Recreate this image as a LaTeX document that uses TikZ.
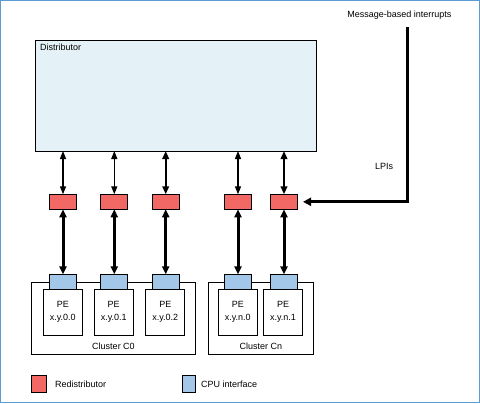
\documentclass[tikz,border=0pt]{standalone}
\usepackage{fontspec}
\setmainfont{Liberation Sans}
\usetikzlibrary{arrows.meta}
\definecolor{frameblue}{RGB}{91,155,213}
\definecolor{distfill}{RGB}{228,242,248}
\definecolor{redist}{RGB}{242,104,100}
\definecolor{cpuif}{RGB}{163,199,232}
\tikzset{
  txt/.style={font=\fontsize{9bp}{13bp}\selectfont, inner sep=0pt},
  box/.style={draw=black, line width=1bp, inner sep=0pt, outer sep=0pt},
  rdbox/.style={box, fill=redist, minimum width=27bp, minimum height=15bp},
  cpubox/.style={box, fill=cpuif, minimum width=27bp, minimum height=14.7bp},
  pebox/.style={box, fill=white, minimum width=39bp, minimum height=46.3bp, align=center, font=\fontsize{9bp}{13bp}\selectfont},
  clbox/.style={box, fill=white},
  tip/.style={Triangle[length=8bp,width=6bp]},
  thinarr/.style={line width=1.3bp, {Triangle[length=8bp,width=6bp]}-{Triangle[length=8bp,width=6bp]}},
  midarr/.style={line width=2.4bp, {Triangle[length=8bp,width=6.5bp]}-{Triangle[length=8bp,width=6.5bp]}},
  thickarr/.style={line width=3bp, {Triangle[length=8bp,width=7bp]}-{Triangle[length=8bp,width=7bp]}},
}
\begin{document}
\begin{tikzpicture}[x=1bp,y=-1bp]
\useasboundingbox (0,0) rectangle (480,403);
\draw[frameblue, line width=1bp] (0.5,0.5) rectangle (479.5,402.5);

% Distributor
\node[box, fill=distfill, minimum width=280bp, minimum height=111bp] (dist) at (176,95.5) {};
\node[txt, anchor=north west] (disttxt) at (40,44) {Distributor};

% Redistributors
\node[rdbox] (rd1) at (63,201.8) {};
\node[rdbox] (rd2) at (114.3,201.8) {};
\node[rdbox] (rd3) at (165.7,201.8) {};
\node[rdbox] (rd4) at (238,201.8) {};
\node[rdbox] (rd5) at (284,201.8) {};

% Clusters
\draw[box] (31.7,282.3) rectangle (195.3,354);
\draw[box] (208.3,282.3) rectangle (313.3,354);
\node[txt] (c0) at (113.5,346) {Cluster C0};
\node[txt] (cn) at (260.8,346) {Cluster Cn};

% PEs
\node[pebox] (pe1) at (62.8,312.2) {PE\\x.y.0.0};
\node[pebox] (pe2) at (113.7,312.2) {PE\\x.y.0.1};
\node[pebox] (pe3) at (165.3,312.2) {PE\\x.y.0.2};
\node[pebox] (pe4) at (237.8,312.2) {PE\\x.y.n.0};
\node[pebox] (pe5) at (283,312.2) {PE\\x.y.n.1};

% CPU interfaces
\node[cpubox] (cp1) at (63,281.7) {};
\node[cpubox] (cp2) at (114.3,281.7) {};
\node[cpubox] (cp3) at (165.7,281.7) {};
\node[cpubox] (cp4) at (238,281.7) {};
\node[cpubox] (cp5) at (284,281.7) {};

% Distributor <-> Redistributor
\draw[thinarr] (dist.south -| rd1) -- (rd1.north);
\draw[thinarr] (dist.south -| rd2) -- (rd2.north);
\draw[midarr] (dist.south -| rd3) -- (rd3.north);
\draw[thinarr] (dist.south -| rd4) -- (rd4.north);
\draw[midarr] (dist.south -| rd5) -- (rd5.north);

% Redistributor <-> CPU interface
\draw[thickarr] (rd1.south) -- (cp1.north);
\draw[thickarr] (rd2.south) -- (cp2.north);
\draw[thickarr] (rd3.south) -- (cp3.north);
\draw[thickarr] (rd4.south) -- (cp4.north);
\draw[thickarr] (rd5.south) -- (cp5.north);

% Message-based interrupts
\node[txt] (msg) at (399.3,15.5) {Message-based interrupts};
\coordinate (mstart) at (407.3,27);
\draw[line width=3bp, -{Triangle[length=8bp,width=8bp]}, shorten >=5.5bp] (mstart) |- (rd5.east);
\node[txt] (lpi) at (384,166.7) {LPIs};

% Legend
\node[box, fill=redist, minimum width=14.7bp, minimum height=16.7bp] (lgr) at (39.3,384.3) {};
\node[txt, anchor=west] (lgrt) at (55,384) {Redistributor};
\node[box, fill=cpuif, minimum width=13.4bp, minimum height=16.7bp] (lgb) at (189,384.3) {};
\node[txt, anchor=west] (lgbt) at (201,384) {CPU interface};
\end{tikzpicture}
\end{document}
